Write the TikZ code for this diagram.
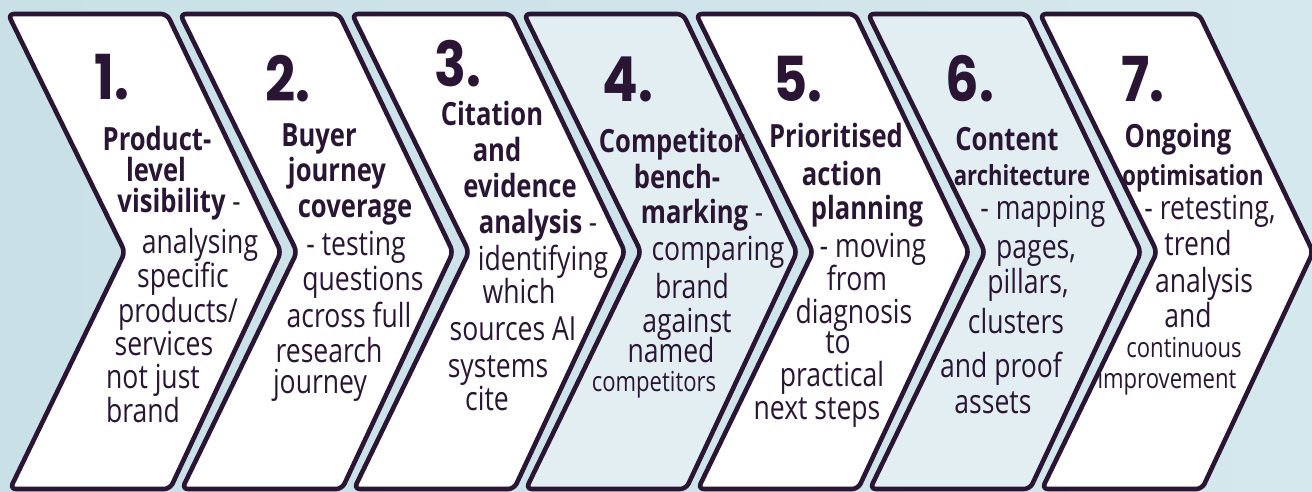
\documentclass[tikz,border=0pt]{standalone}
\usepackage{fontspec}
\setmainfont{Open Sans}[FakeStretch=0.8]
\newfontfamily\numfont{Poppins}[FakeStretch=0.85]
\definecolor{bgleft}{HTML}{C9E0E7}
\definecolor{bgright}{HTML}{D5E8ED}
\definecolor{ink}{HTML}{2A1634}
\definecolor{pale}{HTML}{E3EEF2}

\begin{document}
\begin{tikzpicture}[x=0.5pt,y=-0.5pt,
    chev/.style={draw=ink,line width=2.3pt,rounded corners=3pt,line join=round},
    num/.style={anchor=base,inner sep=0pt,text=ink,font=\numfont\bfseries\fontsize{31}{31}\selectfont},
    ttl/.style={anchor=base,inner sep=0pt,text=ink,font=\bfseries\fontsize{16}{18}\selectfont},
    ttlsm/.style={ttl,font=\bfseries\fontsize{13.8}{16}\selectfont},
    txt/.style={anchor=base,inner sep=0pt,text=ink,font=\fontsize{16.6}{18}\selectfont},
    txtsm/.style={txt,font=\fontsize{13.8}{16}\selectfont}]
  \shade[left color=bgleft,right color=bgright] (0,0) rectangle (1312,492);
  \useasboundingbox (0,0) rectangle (1312,492);

  % the seven arrows, 172 apart
  \foreach \i/\f in {0/white,1/white,2/white,3/pale,4/white,5/pale,6/white}
    \draw[chev,fill=\f] ({8+172*\i},14) -- ({167+172*\i},14) -- ({281+172*\i},252)
      -- ({170+172*\i},489) -- ({10+172*\i},489) -- ({125+172*\i},252) -- cycle;

  % 1
  \node[num] (n1) at (112,100) {1.};
  \node[ttl] (a1) at (157,150) {Product-};
  \node[ttl] (a2) at (156,182) {level};
  \node[ttl] (a3) at (179,213) {visibility \mdseries-};
  \node[txt] (a4) at (200,253) {analysing};
  \node[txt] (a5) at (183,287) {specific};
  \node[txt] (a6) at (178,322) {products/};
  \node[txt] (a7) at (164,355) {services};
  \node[txt] (a8) at (153,388) {not just};
  \node[txt] (a9) at (143,422) {brand};

  % 2
  \node[num] (n2) at (288,102) {2.};
  \node[ttl] (b1) at (319,147) {Buyer};
  \node[ttl] (b2) at (337,182) {journey};
  \node[ttl] (b3) at (355,217) {coverage};
  \node[txt] (b4) at (356,255) {- testing};
  \node[txt] (b5) at (363,290) {questions};
  \node[txt] (b6) at (349,327) {across full};
  \node[txt] (b7) at (329,362) {research};
  \node[txt] (b8) at (320,393) {journey};

  % 3
  \node[num] (n3) at (458,87) {3.};
  \node[ttl] (c1) at (492,126) {Citation};
  \node[ttl] (c2) at (497,162) {and};
  \node[ttl] (c3) at (520,198) {evidence};
  \node[ttl] (c4) at (538,233) {analysis \mdseries-};
  \node[txt] (c5) at (543,270) {identifying};
  \node[txt] (c6) at (519,303) {which};
  \node[txt] (c7) at (513,340) {sources AI};
  \node[txt] (c8) at (498,377) {systems};
  \node[txt] (c9) at (487,410) {cite};

  % 4
  \node[num] (n4) at (628,102) {4.};
  \node[ttl] (d1) at (672,153) {Competitor};
  \node[ttl] (d2) at (677,188) {bench-};
  \node[ttl] (d3) at (702,223) {marking \mdseries-};
  \node[txt] (d4) at (718,260) {comparing};
  \node[txt] (d5) at (692,298) {brand};
  \node[txt] (d6) at (687,332) {against};
  \node[txt] (d7) at (671,362) {named};
  \node[txtsm] (d8) at (654,391) {competitors};

  % 5
  \node[num] (n5) at (798,102) {5.};
  \node[ttl] (e1) at (836,148) {Prioritised};
  \node[ttl] (e2) at (842,185) {action};
  \node[ttl] (e3) at (867,220) {planning};
  \node[txt] (e4) at (873,257) {- moving};
  \node[txt] (e5) at (857,290) {from};
  \node[txt] (e6) at (854,323) {diagnosis};
  \node[txt] (e7) at (838,353) {to};
  \node[txt] (e8) at (832,386) {practical};
  \node[txt] (e9) at (817,419) {next steps};

  % 6
  \node[num] (n6) at (970,102) {6.};
  \node[ttl] (f1) at (1007,150) {Content};
  \node[ttlsm] (f2) at (1022,185) {architecture};
  \node[txt] (f3) at (1043,220) {- mapping};
  \node[txt] (f4) at (1036,258) {pages,};
  \node[txt] (f5) at (1028,293) {pillars,};
  \node[txt] (f6) at (1016,333) {clusters};
  \node[txt] (f7) at (1001,377) {and proof};
  \node[txt] (f8) at (993,413) {assets};

  % 7
  \node[num] (n7) at (1143,102) {7.};
  \node[ttl] (g1) at (1178,148) {Ongoing};
  \node[ttlsm] (g2) at (1193,185) {optimisation};
  \node[txt] (g3) at (1210,220) {- retesting,};
  \node[txt] (g4) at (1198,255) {trend};
  \node[txt] (g5) at (1204,292) {analysis};
  \node[txt] (g6) at (1188,327) {and};
  \node[txtsm] (g7) at (1184,357) {continuous};
  \node[txtsm] (g8) at (1167,388) {improvement};
\end{tikzpicture}
\end{document}
